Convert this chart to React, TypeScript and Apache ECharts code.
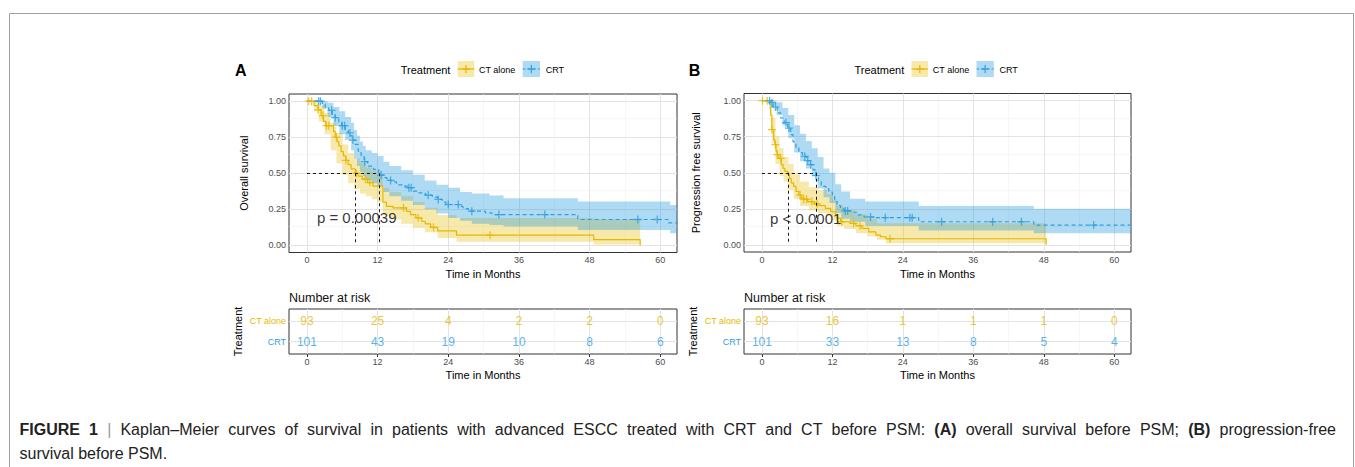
import React, { useEffect, useRef } from 'react';
import * as echarts from 'echarts';

const FONT = '"Liberation Sans", Arial, Helvetica, sans-serif';
const CT_COLOR = '#E7B800';
const CRT_COLOR = '#2E9FDF';
const CT_FILL = 'rgba(231,184,0,0.33)';
const CRT_FILL = 'rgba(46,159,223,0.38)';

const GROUPS = ['CT alone', 'CRT'];
const TIME_TICKS = [0, 12, 24, 36, 48, 60];
const TIME_MINOR = [6, 18, 30, 42, 54];
const SURV_TICKS = [0, 0.25, 0.5, 0.75, 1];
const SURV_MINOR = [0.125, 0.375, 0.625, 0.875];

// ---------- Panel A: overall survival ----------
const A_CT_T = [0, 1.2, 1.9, 2.4, 2.8, 3.2, 4.5, 4.8, 5.1, 5.4, 5.8, 6.2, 6.6, 7.0, 7.5, 8.2, 8.7, 9.4, 10.3, 11.2, 12.9, 13.5, 14.6, 16.9, 17.6, 18.5, 19.5, 20.1, 21.0, 22.2, 25.4, 48.7, 56.6];
const A_CT_S = [1, 0.97, 0.94, 0.9, 0.86, 0.83, 0.79, 0.75, 0.72, 0.69, 0.65, 0.62, 0.59, 0.56, 0.53, 0.5, 0.48, 0.46, 0.435, 0.41, 0.3, 0.27, 0.26, 0.235, 0.213, 0.19, 0.165, 0.148, 0.125, 0.1, 0.07, 0.04, 0];
const A_CT_CENSOR = [0.3, 0.8, 1.9, 2.7, 3.3, 3.7, 5.0, 6.6, 8.4, 9.9, 10.7, 16.4, 18.9, 21.5, 31.1];
const A_CT_BAND_T = [0, 1.2, 2.0, 3.0, 4.0, 5.0, 6.0, 7.0, 8.0, 9.0, 10.0, 11.0, 12.0, 12.9, 14.0, 16.0, 18.0, 20.0, 22.2, 25.4, 48.7, 56.6];
const A_CT_BAND_LO = [1, 0.93, 0.86, 0.77, 0.66, 0.57, 0.49, 0.43, 0.39, 0.36, 0.34, 0.32, 0.3, 0.21, 0.18, 0.15, 0.12, 0.09, 0.05, 0.025, 0.005, 0.005];
const A_CT_BAND_HI = [1, 1, 0.97, 0.92, 0.85, 0.78, 0.7, 0.64, 0.6, 0.57, 0.54, 0.52, 0.49, 0.4, 0.37, 0.34, 0.3, 0.26, 0.21, 0.19, 0.18, 0.18];

const A_CRT_T = [0, 2.6, 3.1, 3.7, 4.3, 4.8, 5.4, 5.9, 6.5, 7.0, 7.4, 7.8, 8.2, 8.7, 9.2, 9.7, 10.3, 11.3, 12.2, 12.6, 13.0, 13.6, 14.4, 15.2, 16.2, 17.2, 18.0, 19.0, 20.1, 21.3, 22.2, 23.0, 23.6, 25.8, 26.5, 27.4, 30.3, 31.4, 46.0, 61.3, 62.9];
const A_CRT_S = [1, 0.98, 0.955, 0.937, 0.9, 0.886, 0.85, 0.83, 0.805, 0.78, 0.76, 0.73, 0.7, 0.654, 0.62, 0.58, 0.55, 0.527, 0.5, 0.487, 0.469, 0.45, 0.44, 0.42, 0.41, 0.4, 0.376, 0.364, 0.348, 0.334, 0.318, 0.3, 0.283, 0.27, 0.255, 0.237, 0.225, 0.213, 0.179, 0.155, 0.155];
const A_CRT_CENSOR = [2.0, 2.3, 4.2, 4.8, 6.0, 6.4, 7.3, 7.8, 9.8, 12.6, 14.2, 17.3, 17.7, 20.6, 22.3, 24.0, 25.7, 28.0, 32.6, 40.4, 56.2, 59.5];
const A_CRT_BAND_T = [0, 2.6, 3.5, 4.5, 5.5, 6.5, 7.5, 8.0, 8.5, 9.0, 9.5, 10.0, 11.0, 12.0, 13.0, 14.0, 16.0, 18.0, 20.0, 22.0, 24.0, 26.0, 28.0, 31.0, 33.4, 46.0, 61.7, 62.9];
const A_CRT_BAND_LO = [1, 0.95, 0.89, 0.83, 0.77, 0.73, 0.66, 0.6, 0.55, 0.51, 0.48, 0.45, 0.43, 0.41, 0.37, 0.34, 0.31, 0.28, 0.25, 0.22, 0.19, 0.17, 0.15, 0.14, 0.13, 0.107, 0.084, 0.084];
const A_CRT_BAND_HI = [1, 1, 0.99, 0.96, 0.93, 0.89, 0.85, 0.8, 0.76, 0.72, 0.69, 0.66, 0.64, 0.62, 0.58, 0.55, 0.52, 0.49, 0.45, 0.42, 0.4, 0.37, 0.36, 0.345, 0.327, 0.304, 0.28, 0.28];

const A_RISK_CT = [93, 25, 4, 2, 2, 0];
const A_RISK_CRT = [101, 43, 19, 10, 8, 6];
const A_P = 'p = 0.00039';

// ---------- Panel B: progression free survival ----------
const B_CT_T = [0, 1.4, 1.5, 1.7, 2.0, 2.2, 2.4, 2.6, 2.9, 3.3, 3.6, 3.9, 4.4, 4.7, 5.0, 5.4, 5.8, 6.3, 6.7, 7.1, 7.8, 8.9, 9.7, 10.8, 11.7, 12.5, 12.8, 13.4, 15.0, 16.0, 17.0, 18.2, 19.4, 20.2, 21.1, 48.4];
const B_CT_S = [1, 0.974, 0.9, 0.8, 0.73, 0.695, 0.65, 0.626, 0.6, 0.556, 0.53, 0.51, 0.49, 0.46, 0.43, 0.405, 0.37, 0.345, 0.325, 0.316, 0.3, 0.284, 0.272, 0.253, 0.23, 0.207, 0.184, 0.16, 0.149, 0.133, 0.114, 0.09, 0.067, 0.056, 0.042, 0];
const B_CT_CENSOR = [0.1, 0.9, 1.7, 2.3, 2.6, 3.2, 6.5, 7.1, 7.6, 8.5, 9.4, 13.6, 15.6, 16.7, 21.8];
const B_CT_BAND_T = [0, 1.4, 1.5, 1.7, 2.3, 3.0, 3.7, 4.5, 5.4, 6.5, 8.0, 9.5, 11.0, 12.0, 12.8, 14.0, 16.0, 18.0, 19.6, 21.1, 48.4];
const B_CT_BAND_LO = [1, 0.94, 0.84, 0.71, 0.56, 0.48, 0.44, 0.38, 0.32, 0.27, 0.24, 0.22, 0.2, 0.17, 0.13, 0.11, 0.08, 0.06, 0.035, 0.01, 0.01];
const B_CT_BAND_HI = [1, 1, 0.96, 0.88, 0.75, 0.67, 0.61, 0.56, 0.49, 0.44, 0.4, 0.38, 0.35, 0.31, 0.27, 0.24, 0.21, 0.18, 0.15, 0.15, 0.15];

const B_CRT_T = [0, 1.6, 1.9, 2.6, 3.2, 3.8, 4.4, 4.9, 5.3, 5.8, 6.3, 6.9, 7.6, 8.2, 8.7, 9.2, 9.6, 10.1, 10.9, 11.4, 12.0, 12.4, 12.8, 13.4, 14.0, 15.1, 16.3, 17.4, 19.0, 26.7, 46.3, 62.9];
const B_CRT_S = [1, 0.986, 0.956, 0.916, 0.88, 0.847, 0.81, 0.765, 0.714, 0.672, 0.64, 0.614, 0.584, 0.556, 0.52, 0.48, 0.44, 0.405, 0.39, 0.365, 0.335, 0.3, 0.272, 0.249, 0.235, 0.226, 0.207, 0.193, 0.188, 0.16, 0.137, 0.137];
const B_CRT_CENSOR = [1.3, 1.7, 2.3, 4.1, 4.6, 7.3, 7.8, 8.3, 9.2, 14.2, 14.6, 18.5, 21.0, 25.2, 25.6, 30.6, 39.3, 44.2, 56.5];
const B_CRT_BAND_T = [0, 1.6, 2.5, 3.5, 4.5, 5.5, 6.5, 7.5, 8.5, 9.5, 10.5, 11.5, 12.5, 13.5, 15.0, 17.6, 26.7, 46.3, 62.9];
const B_CRT_BAND_LO = [1, 0.96, 0.9, 0.83, 0.74, 0.64, 0.58, 0.53, 0.48, 0.39, 0.33, 0.29, 0.22, 0.18, 0.16, 0.13, 0.1, 0.08, 0.08];
const B_CRT_BAND_HI = [1, 1, 0.99, 0.95, 0.9, 0.83, 0.77, 0.72, 0.67, 0.61, 0.53, 0.5, 0.42, 0.37, 0.32, 0.3, 0.27, 0.25, 0.25];

const B_RISK_CT = [93, 16, 1, 1, 1, 0];
const B_RISK_CRT = [101, 33, 13, 8, 5, 4];
const B_P = 'p < 0.0001';

// caption: [text, style] segments; line 1 is justified like the journal page
const CAPTION_LINE_1: [string, string][] = [
  ['FIGURE 1', 'b'],
  ['|', 's'],
  ['Kaplan–Meier curves of survival in patients with advanced ESCC treated with CRT and CT before PSM:', 'n'],
  ['(A)', 'b'],
  ['overall survival before PSM;', 'n'],
  ['(B)', 'b'],
  ['progression-free', 'n'],
];
const CAPTION_LINE_2 = 'survival before PSM.';

// ---------- layout ----------
const X_MIN = -3.05;
const X_MAX = 62.85;
const PLUS = 'path://M-0.16,-1H0.16V-0.16H1V0.16H0.16V1H-0.16V0.16H-1V-0.16H-0.16Z';
const CAP_LEFT = 19.5;
const CAP_RIGHT = 1336;
const CAP_SIZE = 16;

const PANELS = [
  {
    letter: 'A', dx: 0, yName: 'Overall survival', yGap: 40,
    plot: { left: 289, top: 94, width: 388, height: 158.5 },
    risk: { left: 289, top: 309, width: 388, height: 45 },
    ct: { t: A_CT_T, s: A_CT_S, c: A_CT_CENSOR, bt: A_CT_BAND_T, lo: A_CT_BAND_LO, hi: A_CT_BAND_HI, risk: A_RISK_CT },
    crt: { t: A_CRT_T, s: A_CRT_S, c: A_CRT_CENSOR, bt: A_CRT_BAND_T, lo: A_CRT_BAND_LO, hi: A_CRT_BAND_HI, risk: A_RISK_CRT },
    p: A_P, pPos: [1.6, 0.19],
  },
  {
    letter: 'B', dx: 453.8, yName: 'Progression free survival', yGap: 43,
    plot: { left: 744, top: 93.5, width: 387, height: 158.5 },
    risk: { left: 744, top: 309, width: 387, height: 45 },
    ct: { t: B_CT_T, s: B_CT_S, c: B_CT_CENSOR, bt: B_CT_BAND_T, lo: B_CT_BAND_LO, hi: B_CT_BAND_HI, risk: B_RISK_CT },
    crt: { t: B_CRT_T, s: B_CRT_S, c: B_CRT_CENSOR, bt: B_CRT_BAND_T, lo: B_CRT_BAND_LO, hi: B_CRT_BAND_HI, risk: B_RISK_CRT },
    p: B_P, pPos: [1.3, 0.184],
  },
];

function stepValue(ts: number[], ss: number[], t: number) {
  let v = ss[0];
  for (let i = 0; i < ts.length; i++) if (ts[i] <= t) v = ss[i];
  return v;
}
function medianOf(ts: number[], ss: number[]) {
  for (let i = 0; i < ts.length; i++) if (ss[i] <= 0.5) return ts[i];
  return null;
}

function timeAxis(gridIndex: number, nameGap: number) {
  return {
    type: 'value', gridIndex, min: X_MIN, max: X_MAX,
    axisLine: { show: false }, splitLine: { show: false },
    axisTick: { show: true, customValues: TIME_TICKS, length: 3, lineStyle: { color: '#333', width: 1 } },
    axisLabel: { customValues: TIME_TICKS, color: '#4D4D4D', fontSize: 9, margin: 3, fontFamily: FONT },
    name: 'Time in Months', nameLocation: 'middle', nameGap,
    nameTextStyle: { color: '#000', fontSize: 11, fontFamily: FONT },
  };
}

function gridLineSeries(xi: number, yi: number, yMajor: number[], yMinor: number[]) {
  const major = { color: '#E3E3E3', width: 1, type: 'solid' };
  const minor = { color: '#F0F0F0', width: 0.6, type: 'solid' };
  const data: any[] = [];
  TIME_MINOR.forEach((v) => data.push({ xAxis: v, lineStyle: minor }));
  yMinor.forEach((v) => data.push({ yAxis: v, lineStyle: minor }));
  TIME_TICKS.forEach((v) => data.push({ xAxis: v, lineStyle: major }));
  yMajor.forEach((v) => data.push({ yAxis: v, lineStyle: major }));
  return {
    type: 'line', xAxisIndex: xi, yAxisIndex: yi, data: [], z: 1, silent: true,
    markLine: { z: 1, silent: true, symbol: ['none', 'none'], label: { show: false }, animation: false, data },
  };
}

function bandSeries(xi: number, yi: number, ts: number[], lo: number[], hi: number[], fill: string) {
  return {
    type: 'custom', xAxisIndex: xi, yAxisIndex: yi, z: 2, silent: true, clip: true,
    data: [[ts[0], lo[0]]],
    renderItem: (_p: any, api: any) => {
      const up: number[][] = [];
      const dn: number[][] = [];
      for (let i = 0; i < ts.length - 1; i++) {
        up.push(api.coord([ts[i], hi[i]]), api.coord([ts[i + 1], hi[i]]));
        dn.push(api.coord([ts[i], lo[i]]), api.coord([ts[i + 1], lo[i]]));
      }
      return { type: 'polygon', shape: { points: up.concat(dn.reverse()) }, style: { fill, stroke: 'none' } };
    },
  };
}

function curveSeries(xi: number, yi: number, ts: number[], ss: number[], color: string, dashed: boolean) {
  return {
    type: 'line', xAxisIndex: xi, yAxisIndex: yi, step: 'end', z: 3, silent: true,
    data: ts.map((t, i) => [t, ss[i]]), showSymbol: false, symbol: 'none',
    lineStyle: { color, width: 1.2, type: dashed ? [4, 3] : 'solid' },
  };
}

function censorSeries(xi: number, yi: number, ts: number[], ss: number[], cs: number[], color: string) {
  return {
    type: 'scatter', xAxisIndex: xi, yAxisIndex: yi, z: 4, silent: true,
    symbol: PLUS, symbolSize: 8,
    data: cs.map((t) => [t, stepValue(ts, ss, t)]),
    itemStyle: { color },
  };
}

function captionElements() {
  const canvas = document.createElement('canvas');
  const ctx = canvas.getContext('2d') as CanvasRenderingContext2D;
  const words: { text: string; style: string; w: number }[] = [];
  CAPTION_LINE_1.forEach(([txt, st]) => {
    txt.split(' ').forEach((w) => {
      ctx.font = (st === 'b' ? 'bold ' : '') + CAP_SIZE + 'px ' + FONT;
      words.push({ text: w, style: st, w: ctx.measureText(w).width });
    });
  });
  const total = words.reduce((a, b) => a + b.w, 0);
  const gap = (CAP_RIGHT - CAP_LEFT - total) / (words.length - 1);
  const els: any[] = [];
  let x = CAP_LEFT;
  words.forEach((w) => {
    els.push({
      type: 'text', x, y: 429,
      style: {
        text: w.text, fontSize: CAP_SIZE, fontFamily: FONT,
        fontWeight: w.style === 'b' ? 'bold' : 'normal',
        fill: w.style === 's' ? '#999' : '#222', align: 'left', verticalAlign: 'middle',
      },
    });
    x += w.w + gap;
  });
  els.push({ type: 'text', x: CAP_LEFT, y: 453, style: { text: CAPTION_LINE_2, fontSize: CAP_SIZE, fontFamily: FONT, fill: '#222', align: 'left', verticalAlign: 'middle' } });
  return els;
}

function buildOption() {
  const grids: any[] = [];
  const xAxes: any[] = [];
  const yAxes: any[] = [];
  const series: any[] = [];
  const graphics: any[] = [];

  PANELS.forEach((P, k) => {
    const gPlot = k * 2;
    const gRisk = k * 2 + 1;
    grids.push({ ...P.plot, show: true, borderColor: '#333', borderWidth: 1, backgroundColor: '#fff', containLabel: false });
    grids.push({ ...P.risk, show: true, borderColor: '#333', borderWidth: 1, backgroundColor: '#fff', containLabel: false });

    xAxes.push(timeAxis(gPlot, 16));
    xAxes.push(timeAxis(gRisk, 15));

    yAxes.push({
      type: 'value', gridIndex: gPlot, min: -0.05, max: 1.05,
      axisLine: { show: false }, splitLine: { show: false },
      axisTick: { show: true, customValues: SURV_TICKS, length: 3, lineStyle: { color: '#333', width: 1 } },
      axisLabel: { customValues: SURV_TICKS, color: '#4D4D4D', fontSize: 9, margin: 3, fontFamily: FONT, formatter: (v: number) => v.toFixed(2) },
      name: P.yName, nameLocation: 'middle', nameGap: P.yGap,
      nameTextStyle: { color: '#000', fontSize: 11, fontFamily: FONT },
    });
    const rowVals = GROUPS.map((_, i) => GROUPS.length - i);
    yAxes.push({
      type: 'value', gridIndex: gRisk, min: 0.4, max: 2.6,
      axisLine: { show: false }, splitLine: { show: false },
      axisTick: { show: true, customValues: rowVals, length: 3, lineStyle: { color: '#333', width: 1 } },
      axisLabel: {
        customValues: rowVals, margin: 3,
        formatter: (v: number) => (v === rowVals[0] ? '{ct|' + GROUPS[0] + '}' : '{crt|' + GROUPS[1] + '}'),
        rich: {
          ct: { color: CT_COLOR, fontSize: 9, fontFamily: FONT },
          crt: { color: CRT_COLOR, fontSize: 9, fontFamily: FONT },
        },
      },
      name: 'Treatment', nameLocation: 'middle', nameGap: 46,
      nameTextStyle: { color: '#000', fontSize: 11, fontFamily: FONT },
    });

    // plot panel
    series.push(gridLineSeries(gPlot, gPlot, SURV_TICKS, SURV_MINOR));
    series.push(bandSeries(gPlot, gPlot, P.ct.bt, P.ct.lo, P.ct.hi, CT_FILL));
    series.push(bandSeries(gPlot, gPlot, P.crt.bt, P.crt.lo, P.crt.hi, CRT_FILL));
    series.push(curveSeries(gPlot, gPlot, P.ct.t, P.ct.s, CT_COLOR, false));
    series.push(curveSeries(gPlot, gPlot, P.crt.t, P.crt.s, CRT_COLOR, true));
    series.push(censorSeries(gPlot, gPlot, P.ct.t, P.ct.s, P.ct.c, CT_COLOR));
    series.push(censorSeries(gPlot, gPlot, P.crt.t, P.crt.s, P.crt.c, CRT_COLOR));

    const m1 = medianOf(P.ct.t, P.ct.s) as number;
    const m2 = medianOf(P.crt.t, P.crt.s) as number;
    series.push({
      type: 'line', xAxisIndex: gPlot, yAxisIndex: gPlot, data: [], z: 5, silent: true,
      markLine: {
        z: 5, silent: true, symbol: ['none', 'none'], label: { show: false }, animation: false,
        lineStyle: { color: '#000', width: 0.9, type: [3, 3] },
        data: [
          [{ coord: [0, 0.5] }, { coord: [Math.max(m1, m2), 0.5] }],
          [{ coord: [m1, 0.5] }, { coord: [m1, 0] }],
          [{ coord: [m2, 0.5] }, { coord: [m2, 0] }],
        ],
      },
    });
    series.push({
      type: 'scatter', xAxisIndex: gPlot, yAxisIndex: gPlot, z: 6, silent: true,
      symbolSize: 1, itemStyle: { color: 'rgba(0,0,0,0)' },
      data: [P.pPos],
      label: { show: true, position: 'right', distance: 0, formatter: P.p, color: '#000', fontSize: 15, fontFamily: FONT },
    });

    // risk table
    series.push(gridLineSeries(gRisk, gRisk, rowVals, []));
    [P.ct.risk, P.crt.risk].forEach((vals, gi) => {
      const color = gi === 0 ? CT_COLOR : CRT_COLOR;
      series.push({
        type: 'scatter', xAxisIndex: gRisk, yAxisIndex: gRisk, z: 4, silent: true,
        symbolSize: 1, itemStyle: { color: 'rgba(0,0,0,0)' },
        data: TIME_TICKS.map((t, i) => [t, rowVals[gi], vals[i]]),
        label: { show: true, position: 'inside', formatter: (p: any) => String(p.value[2]), color, fontSize: 12, fontFamily: FONT },
      });
    });

    // panel letter, legend, risk title
    const dx = P.dx;
    graphics.push({ type: 'text', x: 235 + dx, y: 70, style: { text: P.letter, fontSize: 16, fontWeight: 'bold', fontFamily: FONT, fill: '#000', align: 'left', verticalAlign: 'middle' } });
    graphics.push({ type: 'text', x: 400.7 + dx, y: 70, style: { text: 'Treatment', fontSize: 11, fontFamily: FONT, fill: '#000', align: 'left', verticalAlign: 'middle' } });
    const keys = [
      { x: 457.7, w: 16.6, fill: CT_FILL, color: CT_COLOR, dash: null as any, label: GROUPS[0], lx: 479 },
      { x: 522.7, w: 17.3, fill: CRT_FILL, color: CRT_COLOR, dash: [3, 2], label: GROUPS[1], lx: 545.7 },
    ];
    keys.forEach((kk) => {
      const x = kk.x + dx;
      graphics.push({ type: 'rect', shape: { x, y: 61, width: kk.w, height: 16 }, style: { fill: kk.fill } });
      graphics.push({ type: 'line', shape: { x1: x, y1: 69, x2: x + kk.w, y2: 69 }, style: { stroke: kk.color, lineWidth: 1.2, lineDash: kk.dash } });
      graphics.push({ type: 'line', shape: { x1: x + kk.w / 2, y1: 65, x2: x + kk.w / 2, y2: 73 }, style: { stroke: kk.color, lineWidth: 1.2 } });
      graphics.push({ type: 'line', shape: { x1: x + kk.w / 2 - 4, y1: 69, x2: x + kk.w / 2 + 4, y2: 69 }, style: { stroke: kk.color, lineWidth: 1.2 } });
      graphics.push({ type: 'text', x: kk.lx + dx, y: 69.5, style: { text: kk.label, fontSize: 9, fontFamily: FONT, fill: '#000', align: 'left', verticalAlign: 'middle' } });
    });
    graphics.push({ type: 'text', x: P.risk.left, y: 297.7, style: { text: 'Number at risk', fontSize: 12.5, fontFamily: FONT, fill: '#111', align: 'left', verticalAlign: 'middle' } });
  });

  // frame
  graphics.push({ type: 'rect', shape: { x: 9.5, y: 13.5, width: 1344, height: 520 }, style: { fill: 'none', stroke: '#A0A0A0', lineWidth: 1 }, z: -1 });
  captionElements().forEach((e) => graphics.push(e));

  return {
    animation: false,
    backgroundColor: '#fff',
    textStyle: { fontFamily: FONT },
    grid: grids,
    xAxis: xAxes,
    yAxis: yAxes,
    series,
    graphic: { elements: graphics },
  };
}

export default function App() {
  const ref = useRef<HTMLDivElement>(null);
  useEffect(() => {
    if (!ref.current) return;
    const chart = echarts.init(ref.current, null, { renderer: 'svg', width: 1355, height: 467 });
    chart.setOption(buildOption() as any);
    return () => chart.dispose();
  }, []);
  return <div ref={ref} style={{ position: 'absolute', left: 0, top: 0, width: 1355, height: 467, background: '#fff' }} />;
}
